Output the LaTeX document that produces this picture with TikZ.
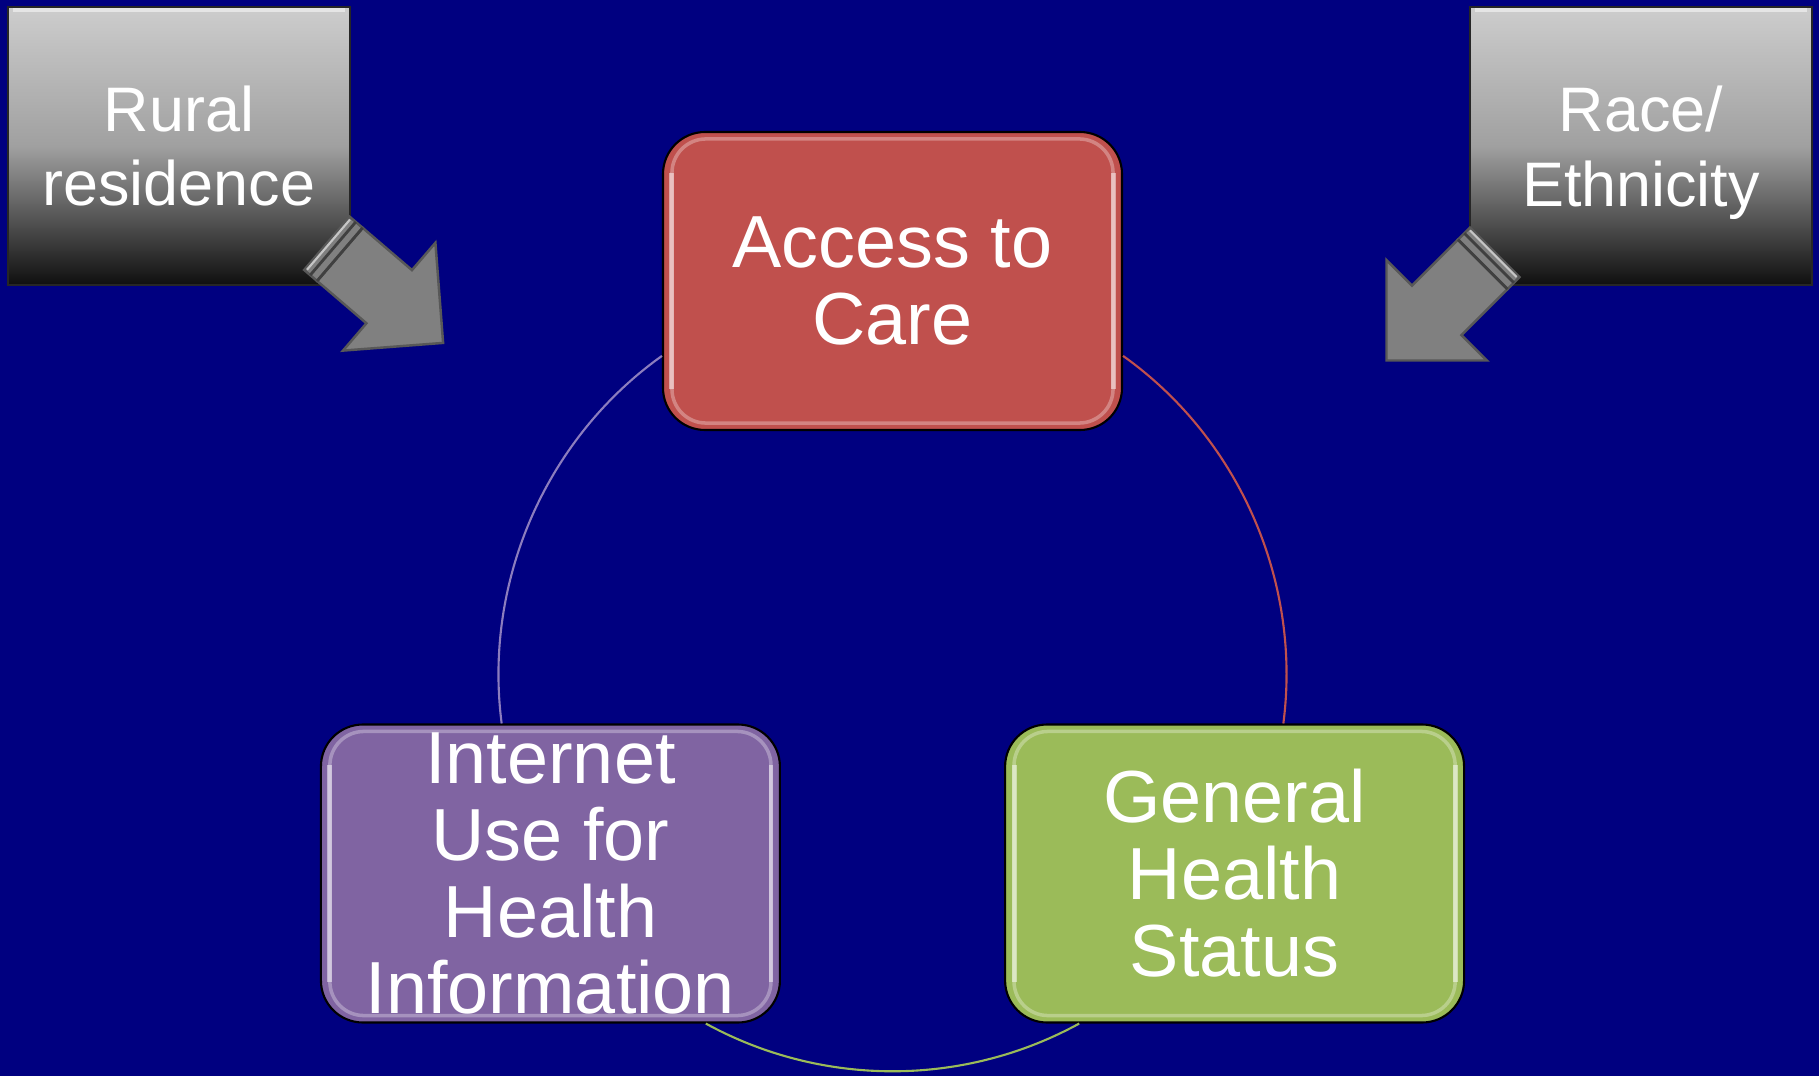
\documentclass[tikz,border=0pt]{standalone}
\usepackage{fontspec}
\setmainfont{Liberation Sans}

\definecolor{slidenavy}{RGB}{0,0,128}
\definecolor{carered}{RGB}{192,80,77}
\definecolor{netpurple}{RGB}{128,100,162}
\definecolor{healthgreen}{RGB}{155,187,89}
\definecolor{ringlilac}{RGB}{140,125,190}
\definecolor{arrowgray}{RGB}{128,128,128}
\definecolor{arrowedge}{RGB}{88,88,88}
\definecolor{factortop}{RGB}{205,205,205}
\definecolor{factormid}{RGB}{160,160,160}
\definecolor{factorbottom}{RGB}{15,15,15}

\begin{document}
\begin{tikzpicture}[
    every node/.style = {text=white, align=center},
    cyclebox/.style = {rectangle, rounded corners=0.42cm, draw=black,
                       line width=0.6pt, minimum width=4.59cm,
                       minimum height=2.98cm, inner sep=0pt,
                       font=\fontsize{21}{21.9}\selectfont},
    factor/.style   = {rectangle, draw=black!85, line width=0.6pt,
                       minimum width=3.42cm, minimum height=2.78cm,
                       inner sep=0pt, top color=factortop,
                       bottom color=factorbottom, middle color=factormid,
                       font=\fontsize{17.9}{21.3}\selectfont},
    gloss/.style    = {draw=white, opacity=0.3, line width=1pt,
                       rounded corners=0.34cm},
    shine/.style    = {draw=white, opacity=0.5, line width=1.4pt},
    ring/.style     = {line width=0.6pt, looseness=0.91},
    arrowpart/.style = {fill=arrowgray, draw=arrowedge, line width=0.7pt},
    fatarrow/.pic = {
      \draw[arrowpart] (-0.65,-0.35) -- (0,-0.35) -- (0,-0.71) -- (0.71,0)
                       -- (0,0.71) -- (0,0.35) -- (-0.65,0.35) -- cycle;
      \draw[arrowpart] (-0.82,-0.35) -- (-0.65,-0.35) -- (-0.65,0.35)
                       -- (-0.82,0.35) -- cycle;
      \draw[black!75, line width=0.8pt] (-0.74,-0.35) -- (-0.74,0.35);
      \draw[black!75, line width=0.8pt] (-0.65,-0.35) -- (-0.65,0.35);
      \draw[white!55!arrowgray, line width=0.6pt] (-0.80,-0.33) -- (-0.80,0.33);
    }
  ]

  % slide background
  \useasboundingbox (0,0) rectangle (18.19,10.76);
  \fill[slidenavy] (0,0) rectangle (18.19,10.76);

  % the cycle
  \coordinate (hub) at (8.925,4.0);
  \node[cyclebox, fill=carered]     (care)   at ([shift={(90:3.95)}]hub)  {Access to\\Care};
  \node[cyclebox, fill=netpurple]   (inet)   at ([shift={(210:3.95)}]hub) {Internet\\Use for\\Health\\Information};
  \node[cyclebox, fill=healthgreen] (status) at ([shift={(330:3.95)}]hub) {General\\Health\\Status};

  \foreach \n in {care,inet,status} {
    \draw[gloss] ([shift={(0.1,-0.08)}]\n.north west) rectangle ([shift={(-0.1,0.08)}]\n.south east);
    \draw[shine] ([shift={(0.1,-0.42)}]\n.north west) -- ([shift={(0.1,0.42)}]\n.south west);
    \draw[shine] ([shift={(-0.1,-0.42)}]\n.north east) -- ([shift={(-0.1,0.42)}]\n.south east);
  }

  \draw[ring, ringlilac]   (care.198)  to[bend right=31]   (inet.108);
  \draw[ring, carered]     (care.342)  to[bend left=31]    (status.72);
  \draw[ring, healthgreen] (inet.316)  to[bend right=28.7] (status.224);

  % outside factors
  \node[factor] (rural) at (1.79,9.30)  {Rural\\residence};
  \node[factor] (race)  at (16.41,9.30) {Race/\\\smash{Ethnicity}};

  \foreach \n in {rural,race}
    \draw[white!80!gray, line width=1pt]
      ([shift={(0.06,-0.04)}]\n.north west) -- ([shift={(-0.06,-0.04)}]\n.north east);

  \pic[rotate=-40.6] at (3.892,7.793)  {fatarrow};
  \pic[rotate=-135]  at (14.367,7.657) {fatarrow};

\end{tikzpicture}
\end{document}
